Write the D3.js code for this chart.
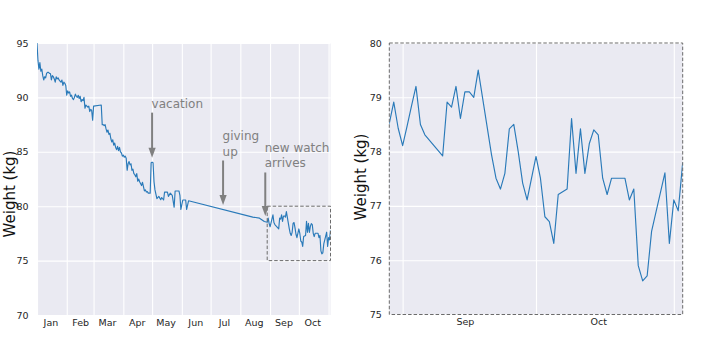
<!DOCTYPE html>
<html><head><meta charset="utf-8">
<script src="https://cdn.jsdelivr.net/npm/d3@7"></script>
<style>body{margin:0;background:#fff}svg{display:block}</style>
</head><body><svg id="c" width="720" height="360"></svg>
<script>
const year = 2019;
// Daily weigh-ins (MM-DD) and weights in kg
const dates = [
"01-01","01-02","01-03","01-04","01-05","01-06","01-07","01-08","01-09","01-10",
"01-11","01-12","01-13","01-14","01-15","01-16","01-17","01-18","01-19","01-20",
"01-21","01-22","01-23","01-24","01-25","01-26","01-27","01-28","01-29","01-30",
"01-31","02-01","02-02","02-03","02-04","02-05","02-06","02-07","02-08","02-09",
"02-10","02-11","02-12","02-13","02-14","02-15","02-16","02-17","02-18","02-19",
"02-20","02-21","02-22","02-23","02-24","02-25","02-26","02-27","02-28","03-01",
"03-09","03-10","03-11","03-12","03-13","03-14","03-15","03-16","03-17","03-18",
"03-19","03-20","03-21","03-22","03-23","03-24","03-25","03-26","03-27","03-28",
"03-29","03-30","03-31","04-01","04-02","04-03","04-04","04-05","04-06","04-07",
"04-08","04-09","04-10","04-11","04-12","04-13","04-14","04-15","04-16","04-17",
"04-18","04-20","04-21","04-23","04-24","04-25","04-26","04-27","04-28","04-29",
"04-30","05-01","05-02","05-03","05-04","05-06","05-08","05-10","05-11","05-13",
"05-14","05-17","05-18","05-20","05-22","05-24","05-25","05-29","05-30","05-31",
"06-02","06-05","06-06","06-08","08-14","08-21","08-26",
"08-29","08-30","08-31","09-01","09-02","09-03","09-04","09-05","09-06","09-10",
"09-11","09-12","09-13","09-14","09-15","09-16","09-17","09-18","09-21","09-22",
"09-23","09-24","09-25","09-26","09-27","09-28","09-29","09-30","10-01","10-02",
"10-03","10-04","10-05","10-06","10-07","10-08","10-09","10-10","10-11","10-12",
"10-13","10-14","10-15","10-16","10-17","10-18","10-19","10-20","10-21","10-22",
"10-23","10-24","10-25","10-26","10-27","10-30","10-31","11-01","11-02","11-03"
];
const weights = [
95.0,93.4,92.6,93.2,92.4,92.6,92.0,91.6,91.9,91.8,
92.2,92.3,92.3,92.2,92.2,91.6,92.0,91.9,91.7,91.4,
91.9,91.7,91.8,91.6,91.5,91.4,91.6,91.1,91.4,91.3,
91.1,90.2,90.6,90.4,90.5,90.1,90.2,89.9,89.8,90.0,
90.3,90.1,90.0,90.2,89.9,90.1,89.6,89.8,89.7,90.0,
89.0,89.3,89.2,89.1,89.2,88.7,88.9,88.8,87.9,89.2,
89.3,87.5,87.5,87.4,87.5,87.1,86.8,87.0,86.6,86.7,
86.2,85.9,86.1,85.6,85.8,85.4,85.2,85.5,85.1,85.4,
85.0,84.9,84.6,84.7,84.5,84.6,84.4,83.3,83.9,84.1,
83.8,83.9,83.3,83.4,83.0,82.9,82.7,83.0,82.3,82.5,
82.25,81.9,82.2,81.4,81.5,81.3,81.35,81.2,81.2,81.2,
84.0,84.05,84.0,82.25,81.5,80.7,80.9,80.6,80.8,80.57,
81.3,81.3,80.9,81.2,81.0,79.9,81.4,81.4,81.0,79.7,
80.57,80.57,79.7,80.5,79.0,78.9,78.6,
78.52,78.91,78.43,78.11,78.47,78.84,79.20,78.50,78.31,77.92,
78.91,78.82,79.20,78.61,79.10,79.10,79.00,79.50,77.94,77.51,
77.31,77.60,78.42,78.50,78.00,77.42,77.11,77.51,77.91,77.51,
76.80,76.71,76.31,77.21,77.26,77.31,78.61,77.60,78.42,77.60,
78.15,78.40,78.31,77.51,77.21,77.51,77.51,77.51,77.51,77.11,
77.31,75.90,75.62,75.71,76.53,77.61,76.31,77.11,76.91,77.80
];
const monthNames = ["Jan","Feb","Mar","Apr","May","Jun","Jul","Aug","Sep","Oct"];
const yTicksLeft = [70,75,80,85,90,95];
const yTicksRight = [75,76,77,78,79,80];
const zoomStart = "08-29", zoomEnd = "11-03";
const zoomLow = 75, zoomHigh = 80;
const notes = [
  {lines:["vacation"], date:"05-01", tip:84.46, top:88.6},
  {lines:["giving","up"], date:"07-14", tip:80.1, top:84.2},
  {lines:["new watch","arrives"], date:"08-27", tip:79.1, top:83.1}
];
const yLabel = "Weight (kg)";

const parse = d3.timeParse("%Y-%m-%d");
const P = s => parse(`${year}-${s}`);
const data = dates.map((d,i)=>({date:P(d), w:weights[i]}));
const svg = d3.select("#c");
const BG="#EAEAF2", LINE="#2a7ab9", TXT="#262626", GRAY="#808080";
const tickFont = "DejaVu Sans";

function panel(id, x, y, yTicks, monthTicks, opts){
  const [x0,x1]=x.range(), [y0,y1]=y.range();
  const g = svg.append("g");
  g.append("rect").attr("x",x0).attr("y",y1).attr("width",x1-x0).attr("height",y0-y1).attr("fill",BG);
  const gx = g.append("g").attr("transform",`translate(0,${y0})`)
    .call(d3.axisBottom(x).ticks(d3.timeMonth.every(1)).tickSize(-(y0-y1)).tickFormat(""));
  gx.select(".domain").remove();
  gx.selectAll("line").attr("stroke","#fff").attr("stroke-width",1.1);
  const gy = g.append("g").attr("transform",`translate(${x0},0)`)
    .call(d3.axisLeft(y).tickValues(yTicks).tickSize(-(x1-x0)).tickFormat(""));
  gy.select(".domain").remove();
  gy.selectAll("line").attr("stroke","#fff").attr("stroke-width",1.1);
  svg.append("clipPath").attr("id",id).append("rect")
    .attr("x",x0).attr("y",y1).attr("width",x1-x0).attr("height",y0-y1);
  const line = d3.line().x(d=>x(d.date)).y(d=>y(d.w));
  g.append("path").datum(data).attr("clip-path",`url(#${id})`)
    .attr("d",line).attr("fill","none").attr("stroke",LINE).attr("stroke-width",1.15)
    .attr("stroke-linejoin","round");
  const ay = g.append("g").attr("transform",`translate(${x0},0)`)
    .call(d3.axisLeft(y).tickValues(yTicks).tickSize(0).tickPadding(opts.padY).tickFormat(d3.format("d")));
  ay.select(".domain").remove();
  ay.selectAll("text").attr("font-family",tickFont).attr("font-size",9.5).attr("fill",TXT);
  const ax = g.append("g").attr("transform",`translate(0,${y0})`)
    .call(d3.axisBottom(x).tickValues(monthTicks).tickSize(0).tickPadding(4).tickFormat(d3.timeFormat("%b")));
  ax.select(".domain").remove();
  ax.selectAll("text").attr("font-family",tickFont).attr("font-size",9.5).attr("fill",TXT);
  g.append("text").attr("transform",`translate(${opts.labelX},${opts.labelY}) rotate(-90)`)
    .attr("text-anchor","middle").attr("font-family","DejaVu Sans").attr("font-size",15)
    .attr("fill","#111").text(yLabel);
  return g;
}

const xL = d3.scaleTime().domain([P(dates[0]), P(dates[dates.length-1])]).range([37,330.5]);
const yL = d3.scaleLinear().domain([70,95]).range([315,43]);
const xR = d3.scaleTime().domain([P(zoomStart), P(zoomEnd)]).range([389.3,682.7]);
const yR = d3.scaleLinear().domain([zoomLow,zoomHigh]).range([314.5,43]);

const midL = monthNames.map((m,i)=>new Date(year,i,15));
const gL = panel("clipL", xL, yL, yTicksLeft, midL, {padY:8.5, labelX:15, labelY:194});
const midR = [new Date(year,8,15), new Date(year,9,15)];
const gR = panel("clipR", xR, yR, yTicksRight, midR, {padY:7.5, labelX:366, labelY:177});

gL.append("rect").attr("x",xL(P(zoomStart))).attr("y",yL(zoomHigh))
  .attr("width",xL(P(zoomEnd))-xL(P(zoomStart))).attr("height",yL(zoomLow)-yL(zoomHigh))
  .attr("fill","none").attr("stroke","#6b6b6b").attr("stroke-width",1).attr("stroke-dasharray","3.5,2");
gR.append("rect").attr("x",xR.range()[0]).attr("y",yR.range()[1])
  .attr("width",xR.range()[1]-xR.range()[0]).attr("height",yR.range()[0]-yR.range()[1])
  .attr("fill","none").attr("stroke","#6b6b6b").attr("stroke-width",1).attr("stroke-dasharray","3.5,2");

notes.forEach(n=>{
  const ax = xL(P(n.date)), ty = yL(n.tip), top = yL(n.top);
  gL.append("line").attr("x1",ax).attr("x2",ax).attr("y1",top).attr("y2",ty-8)
    .attr("stroke",GRAY).attr("stroke-width",2);
  gL.append("path").attr("d",`M${ax},${ty} L${ax-3.6},${ty-10} L${ax+3.6},${ty-10} Z`).attr("fill",GRAY);
  const nl = n.lines.length;
  n.lines.forEach((t,i)=>{
    gL.append("text").attr("x",ax-0.5).attr("y",top-5-(nl-1-i)*15.6)
      .attr("font-family","DejaVu Sans").attr("font-size",12).attr("fill",GRAY).text(t);
  });
});
</script></body></html>
